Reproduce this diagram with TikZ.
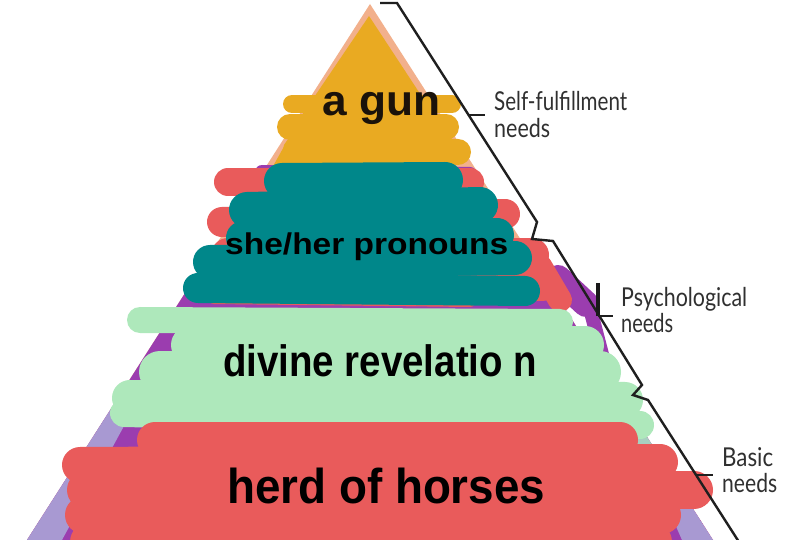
\documentclass[tikz,border=0pt]{standalone}
\usepackage{fontspec}
\setmainfont{Liberation Sans}
\newfontfamily\labfont{Lato}
\usepackage{graphicx}
\definecolor{peach}{HTML}{F2B08C}
\definecolor{gold}{HTML}{E9AA22}
\definecolor{tealc}{HTML}{00878A}
\definecolor{redc}{HTML}{E95B5B}
\definecolor{purp}{HTML}{9B3DAF}
\definecolor{lav}{HTML}{A899D2}
\definecolor{mint}{HTML}{AEE8BB}
\definecolor{ggreen}{HTML}{A8CFC0}
\definecolor{labgray}{HTML}{303030}
\definecolor{inkdark}{HTML}{1A120A}
\newcommand\fitw[2]{\resizebox{#1}{\height}{#2}}
\begin{document}
\begin{tikzpicture}[x=1pt,y=-1pt,
  sc/.style={line cap=round, line join=round, line width=#1},
  big/.style={inner sep=0pt, anchor=base west, text=black},
  lab/.style={inner sep=0pt, anchor=base west, text=labgray, font=\labfont\fontsize{26}{26}\selectfont}]
\fill[white] (0,0) rectangle (788,540);
\useasboundingbox (0,0) rectangle (788,540);
% pyramid
\coordinate (apex) at (370,4);
\coordinate (bl) at (27,540);
\coordinate (br) at (713,540);
\begin{scope}
\clip (apex) -- (bl) -- (br) -- cycle;
\fill[peach] (0,0) rectangle (788,540);
\fill[purp] (0,255) rectangle (788,540);
\fill[lav] (110,410) -- (27,540) -- (62,540) -- (124,426) -- cycle;
\fill[lav] (670,472) -- (713,540) -- (682,540) -- (660,490) -- cycle;
\fill[ggreen] (620,412) -- (652,412) -- (668,462) -- (628,462) -- cycle;
\end{scope}
% purple scribbles
\draw[purp, sc=14] (262,172) -- (470,174);
\draw[purp, sc=26] (558,278) -- (586,304);
\draw[purp, sc=14] (592,316) -- (604,362);
\draw[purp, sc=9] (606,455) -- (667,456);
% yellow top
\fill[gold] (369,16) -- (432,112) -- (458,162) -- (272,168) -- (300,118) -- cycle;
\draw[gold, sc=18] (292,104) -- (452,104);
\draw[gold, sc=26] (290,127) -- (446,127);
\draw[gold, sc=26] (296,150) -- (458,152);
% red under teal
\draw[redc, sc=28] (228,182) -- (470,182);
\draw[redc, sc=30] (222,222) -- (505,214);
\draw[redc, sc=34] (228,255) -- (532,255);
\draw[redc, sc=34] (232,284) -- (542,284);
\draw[redc, sc=12] (214,298) -- (470,301);
\draw[redc, sc=24] (540,266) -- (560,300);
% teal
\draw[tealc, sc=36] (282,181) -- (445,180);
\draw[tealc, sc=36] (247,210) -- (480,205);
\draw[tealc, sc=34] (243,238) -- (497,235);
\draw[tealc, sc=34] (210,262) -- (515,258);
\draw[tealc, sc=30] (198,288) -- (525,291);
% green
\draw[mint, sc=26] (140,320) -- (560,322);
\draw[mint, sc=38] (190,345) -- (585,345);
\draw[mint, sc=42] (160,372) -- (600,372);
\draw[mint, sc=36] (130,398) -- (625,400);
\draw[mint, sc=28] (124,413) -- (640,425);
% red bottom
\draw[redc, sc=36] (155,440) -- (620,440);
\draw[redc, sc=36] (80,465) -- (660,462);
\draw[redc, sc=38] (86,490) -- (694,490);
\draw[redc, sc=38] (84,515) -- (662,515);
\draw[redc, sc=40] (90,542) -- (652,542);
% texts
\node[big, text=inkdark, font=\bfseries\fontsize{43}{43}\selectfont] (gun) at (322,116) {\fitw{118pt}{a gun}};
\node[big, font=\bfseries\fontsize{30}{30}\selectfont] (pron) at (225,255) {\fitw{283pt}{she/her pronouns}};
\node[big, font=\bfseries\fontsize{44}{44}\selectfont] (rev) at (223,377) {\fitw{314pt}{divine revelatio n}};
\node[big, font=\bfseries\fontsize{49}{49}\selectfont] (herd) at (227,503) {\fitw{318pt}{herd of horses}};
% bracket line
\draw[black!88, line width=2.4pt, line join=miter] (380,3) -- (397,3) -- (537,222) -- (532,239) -- (553,241) -- (642,385) -- (633,395) -- (648,400) -- (739,542);
\coordinate (t1a) at (469,115); \coordinate (t1b) at (485,115);
\coordinate (t2a) at (598,283); \coordinate (t2b) at (598,316); \coordinate (t2c) at (613,316);
\coordinate (t3a) at (696,475); \coordinate (t3b) at (713,475);
\draw[black!88, line width=2.4pt] (t1a) -- (t1b);
\draw[black!90, line width=4.5pt] (t2a) -- (t2b);
\draw[black!88, line width=2.4pt] (t2b) -- (t2c);
\draw[black!88, line width=2.4pt] (t3a) -- (t3b);
% labels
\node[lab] (sf1) at (494,111) {\fitw{133pt}{Self-fulfillment}};
\node[lab] (sf2) at (494,138) {\fitw{56pt}{needs}};
\node[lab] (ps1) at (621,307) {\fitw{126pt}{Psychological}};
\node[lab] (ps2) at (621,333) {\fitw{52pt}{needs}};
\node[lab] (ba1) at (722,466) {\fitw{51pt}{Basic}};
\node[lab] (ba2) at (722,493) {\fitw{55pt}{needs}};
\end{tikzpicture}
\end{document}
